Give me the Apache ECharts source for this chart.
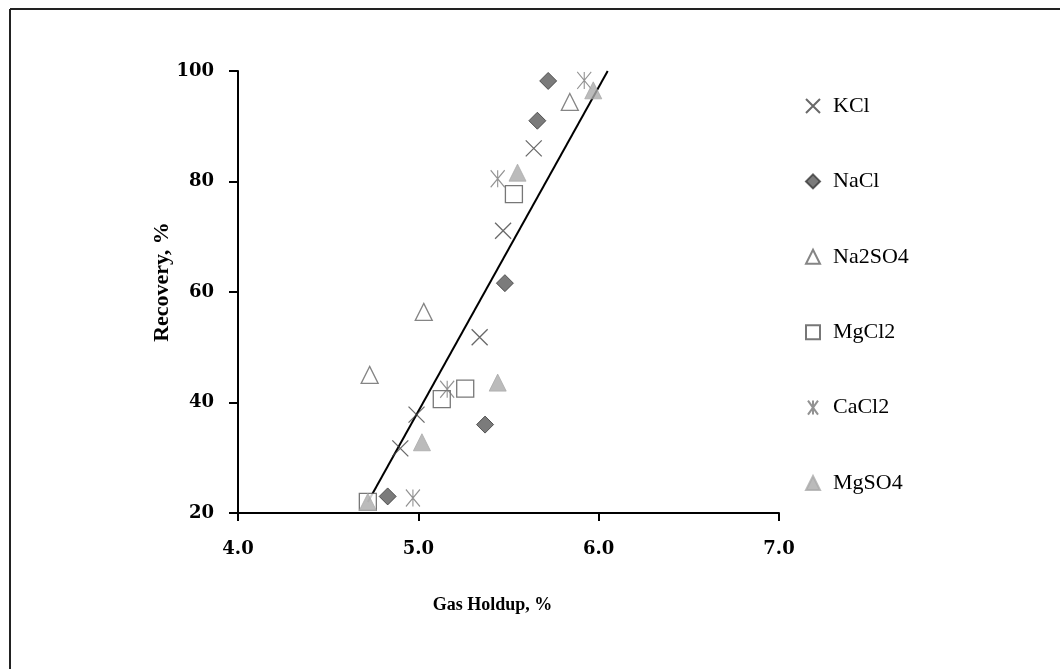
<!DOCTYPE html>
<html>
<head>
<meta charset="utf-8">
<script src="https://cdn.jsdelivr.net/npm/echarts@6/dist/echarts.min.js"></script>
<style>
  html, body { margin: 0; padding: 0; background: #fff; }
  #chart { width: 1060px; height: 669px; }
</style>
</head>
<body>
<div id="chart"></div>
<script>
// gas holdup (%) vs recovery (%) per salt
const kcl = [[4.90, 31.7], [4.99, 37.8], [5.34, 51.8], [5.47, 71.1], [5.64, 86.0]];
const nacl = [[4.83, 23.0], [5.37, 36.0], [5.48, 61.6], [5.66, 91.0], [5.72, 98.2]];
const na2so4 = [[4.73, 45.0], [5.03, 56.4], [5.84, 94.4]];
const mgcl2 = [[4.72, 22.0], [5.13, 40.6], [5.26, 42.5], [5.53, 77.7]];
const cacl2 = [[4.97, 22.7], [5.16, 42.4], [5.44, 80.5], [5.92, 98.3]];
const mgso4 = [[4.72, 22.0], [5.02, 32.8], [5.44, 43.6], [5.55, 81.6], [5.97, 96.5]];

// linear trend line end points
const trendX = [4.72, 6.05];
const trendY = [22, 100];

const xTicks = [4, 5, 6, 7];
const yTicks = [20, 40, 60, 80, 100];

const serif = "Liberation Serif";
const crossPath = "path://M0,0L10,10M10,0L0,10";
const starPath = "path://M0,0L10,14M10,0L0,14M5,0L5,14";

const chart = echarts.init(document.getElementById("chart"), null, { renderer: "canvas" });

const series = [
  {
    name: "KCl",
    type: "scatter",
    data: kcl,
    symbol: crossPath,
    symbolSize: 16,
    itemStyle: { color: "#444", borderColor: "#444", borderWidth: 1.3 },
  },
  {
    name: "NaCl",
    type: "scatter",
    data: nacl,
    symbol: "diamond",
    symbolSize: 17,
    itemStyle: { color: "#5a5a5a", borderColor: "#3a3a3a", borderWidth: 1 },
  },
  {
    name: "Na2SO4",
    type: "scatter",
    data: na2so4,
    symbol: "triangle",
    symbolSize: 17,
    itemStyle: { color: "#fff", borderColor: "#666", borderWidth: 1.3 },
  },
  {
    name: "MgCl2",
    type: "scatter",
    data: mgcl2,
    symbol: "rect",
    symbolSize: 17,
    itemStyle: { color: "#fff", borderColor: "#555", borderWidth: 1.3 },
  },
  {
    name: "CaCl2",
    type: "scatter",
    data: cacl2,
    symbol: starPath,
    symbolSize: [14, 17],
    itemStyle: { color: "#777", borderColor: "#777", borderWidth: 1.2 },
  },
  {
    name: "MgSO4",
    type: "scatter",
    data: mgso4,
    symbol: "triangle",
    symbolSize: 17,
    itemStyle: { color: "#aaa", borderColor: "#aaa", borderWidth: 1 },
  },
  {
    name: "trend",
    type: "line",
    data: trendX.map((x, i) => [x, trendY[i]]),
    showSymbol: false,
    symbol: "none",
    lineStyle: { color: "#000", width: 2 },
    z: 1,
    silent: true,
  },
];

chart.setOption({
  animation: false,
  backgroundColor: "#fff",
  grid: { left: 238, right: 281, top: 71, bottom: 156 },
  graphic: [
    { type: "line", shape: { x1: 10, y1: 9, x2: 1060, y2: 9 }, style: { stroke: "#222", lineWidth: 2 } },
    { type: "line", shape: { x1: 10, y1: 9, x2: 10, y2: 669 }, style: { stroke: "#222", lineWidth: 2 } },
  ],
  legend: {
    data: ["KCl", "NaCl", "Na2SO4", "MgCl2", "CaCl2", "MgSO4"],
    orient: "vertical",
    left: 800,
    top: 89,
    itemWidth: 14,
    itemHeight: 14,
    itemGap: 51.4,
    textStyle: { fontFamily: serif, fontSize: 22, color: "#000", lineHeight: 24, padding: [0, 0, 0, 8] },
  },
  xAxis: {
    type: "value",
    min: xTicks[0],
    max: xTicks[xTicks.length - 1],
    interval: 1,
    name: "Gas Holdup, %",
    nameLocation: "middle",
    nameMoveOverlap: false,
    nameGap: 83,
    nameTextStyle: { fontFamily: serif, fontSize: 18, fontWeight: "bold", color: "#000", padding: [0, 32, 0, 0] },
    axisLine: { show: true, lineStyle: { color: "#000", width: 2 } },
    axisTick: { show: true, inside: false, length: 8, lineStyle: { color: "#000", width: 2 } },
    axisLabel: {
      margin: 27,
      fontFamily: "DejaVu Serif",
      fontWeight: "bold",
      fontSize: 18,
      color: "#000",
      formatter: (v) => v.toFixed(1),
    },
    splitLine: { show: false },
  },
  yAxis: {
    type: "value",
    min: yTicks[0],
    max: yTicks[yTicks.length - 1],
    interval: 20,
    name: "Recovery, %",
    nameLocation: "middle",
    nameRotate: 90,
    nameMoveOverlap: false,
    nameGap: 65,
    nameTextStyle: { fontFamily: serif, fontSize: 22, fontWeight: "bold", color: "#000", padding: [0, 0, 0, 20] },
    axisLine: { show: true, lineStyle: { color: "#000", width: 2 } },
    axisTick: { show: true, inside: false, length: 9, lineStyle: { color: "#000", width: 2 } },
    axisLabel: {
      margin: 24,
      fontFamily: "DejaVu Serif",
      fontWeight: "bold",
      fontSize: 18,
      color: "#000",
    },
    splitLine: { show: false },
  },
  series,
});
</script>
</body>
</html>
